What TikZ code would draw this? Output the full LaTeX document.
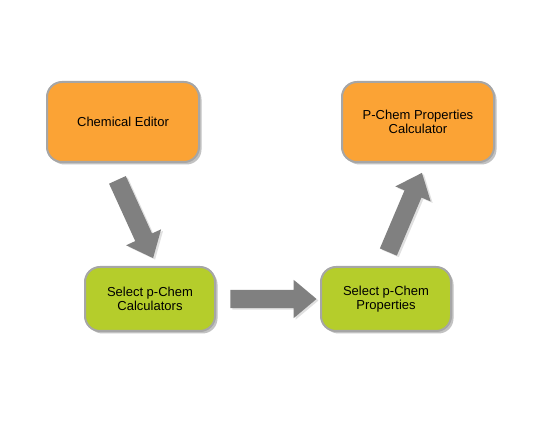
\documentclass[tikz,border=0pt]{standalone}
\usepackage{fontspec}
\setmainfont{Liberation Sans}
\usetikzlibrary{shapes.arrows, shadows}
\definecolor{chemorange}{HTML}{FBA335}
\definecolor{chemgreen}{HTML}{B5CD2B}
\definecolor{chemedge}{HTML}{A6A6A6}
\definecolor{chemarrow}{HTML}{808080}
\tikzset{
  box/.style={rectangle, rounded corners=15pt, draw=chemedge, line width=2pt,
              align=center, inner sep=4pt, font=\fontsize{13}{14}\selectfont,
              drop shadow={shadow xshift=2.5pt, shadow yshift=-2.5pt, fill=black!40, opacity=.6}},
  boxo/.style={box, fill=chemorange, minimum width=152pt, minimum height=80pt},
  boxg/.style={box, fill=chemgreen, minimum width=130pt, minimum height=64pt},
  fat/.style={single arrow, fill=chemarrow, draw=none, inner xsep=0pt, inner ysep=9pt,
              minimum width=38pt, single arrow head extend=10pt, single arrow tip angle=80,
              single arrow head indent=0pt, minimum height=86pt,
              drop shadow={shadow xshift=2pt, shadow yshift=-1.5pt, fill=black!20, opacity=.6}},
}
\begin{document}
\begin{tikzpicture}[x=1pt, y=-1pt]
  \useasboundingbox (0,0) rectangle (550,425);
  \node[boxo] (editor) at (123,122) {Chemical Editor};
  \node[boxg] (calcs) at (150,299) {Select p-Chem\\Calculators};
  \node[boxg] (props) at (386,299) {Select p-Chem\\Properties};
  \node[boxo] (result) at (418,122) {P-Chem Properties\\Calculator};
  % block arrows between the steps
  \node[fat, rotate=-65.5] (a1) at (133,214) {};
  \node[fat] (a2) at (268,299) {};
  \node[fat, rotate=67] (a3) at (403,217.5) {};
\end{tikzpicture}
\end{document}
